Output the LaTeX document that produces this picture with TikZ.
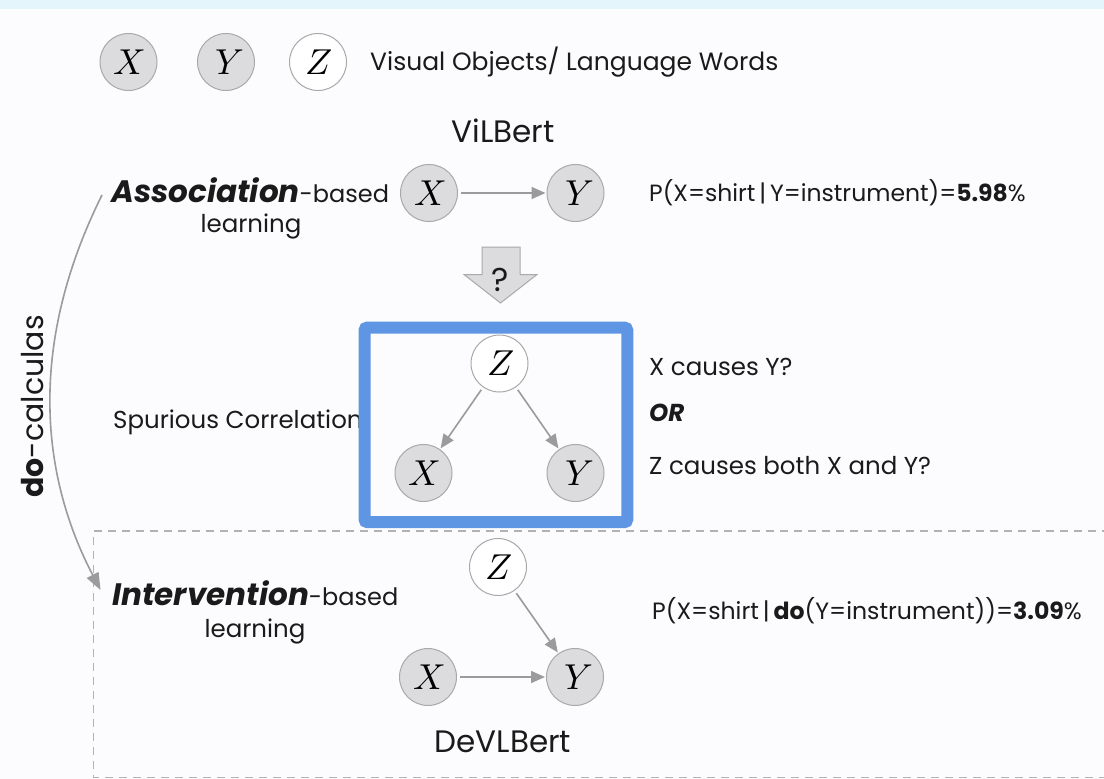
\documentclass[tikz,border=0pt]{standalone}
\usepackage{fontspec}
\setmainfont{Poppins}
\newfontfamily\varfont{Latin Modern Math}
\usetikzlibrary{arrows.meta,shapes.geometric}

\definecolor{pagebg}{HTML}{FCFCFE}
\definecolor{bandcol}{HTML}{E4F5FB}
\definecolor{nodefill}{HTML}{DCDCDE}
\definecolor{nodeline}{HTML}{A9A9A9}
\definecolor{edgecol}{HTML}{9B9B9B}
\definecolor{dashcol}{HTML}{B2B2B2}
\definecolor{boxblue}{HTML}{5F96E3}
\definecolor{inkcol}{HTML}{1A1A1A}
\newcommand\setfs[1]{\fontsize{#1}{#1}\selectfont}
% math-italic capitals
\newcommand\vX{^^^^^^01d44b}
\newcommand\vY{^^^^^^01d44c}
\newcommand\vZ{^^^^^^01d44d}

\tikzset{
  var/.style={ellipse, draw=nodeline, line width=1pt, fill=nodefill,
    minimum width=57pt, minimum height=57pt, inner sep=0pt,
    font=\varfont\setfs{36}, text=black},
  hidden/.style={var, fill=white},
  edge/.style={draw=edgecol, line width=1.6pt,
    -{Triangle[length=14pt,width=12pt]}, shorten >=1pt, shorten <=3pt},
  lbl/.style={inner sep=0pt, text=inkcol},
}

\begin{document}
\begin{tikzpicture}[x=1pt,y=-1pt]
\useasboundingbox (0,0) rectangle (1104,779);
\fill[pagebg] (0,0) rectangle (1104,779);
\fill[bandcol] (0,0) rectangle (1104,9);

% legend
\node[var] (lx) at (128.5,62) {\vX};
\node[var] (ly) at (226,62) {\vY};
\node[hidden] (lz) at (318,62) {\vZ};
\node[lbl, anchor=west, font=\setfs{25}] (legend) at (370,62) {Visual Objects/ Language Words};

% association-based learning
\node[lbl, font=\setfs{31}] (vilbert) at (503,131) {ViLBert};
\node[var] (ax) at (429,193) {\vX};
\node[var] (ay) at (575.5,193) {\vY};
\draw[edge] (ax) -- (ay);
\node[lbl, anchor=base west] (assoc) at (111,202)
  {\setfs{31}\textbf{\textit{Association}}\setfs{24}-based};
\node[lbl, anchor=base, font=\setfs{24.5}] (assoc2) at (251,232) {learning};
\node[lbl, anchor=west, font=\setfs{23.5}] (pa) at (649,193)
  {P(X=shirt\,|\,Y=instrument)=\textbf{5.98}\%};

% question arrow
\draw[fill=nodefill, draw=nodeline, line width=1pt]
  (482,247) -- (520,247) -- (520,274.5) -- (537,274.5) -- (500.5,303)
  -- (464,274.5) -- (482,274.5) -- cycle;
\node[lbl, font=\setfs{33}] (qm) at (500.5,280) {?};

% spurious correlation
\node[lbl, anchor=base west, font=\setfs{24.5}] (spur) at (113,428) {Spurious Correlation};
\draw[boxblue, line width=12pt, fill=pagebg, rounded corners=3pt]
  (364.5,327.5) rectangle (627.3,522.2);
\node[hidden] (bz) at (499.5,363.5) {\vZ};
\node[var] (bx) at (423.5,473) {\vX};
\node[var] (by) at (575.5,473) {\vY};
\draw[edge] (bz) -- (bx);
\draw[edge] (bz) -- (by);
\node[lbl, anchor=west, font=\setfs{24.5}] (q1) at (649,367) {X causes Y?};
\node[lbl, anchor=west, font=\setfs{24.5}] (q2) at (649,413) {\textbf{\textit{OR}}};
\node[lbl, anchor=west, font=\setfs{24.5}] (q3) at (649,466) {Z causes both X and Y?};

% intervention-based learning
\draw[dashcol, line width=1.2pt, dash pattern=on 8pt off 6pt]
  (1110,531) -- (93.5,531) -- (93.5,777.5) -- (1110,777.5);
\node[hidden] (iz) at (498,567) {\vZ};
\node[var] (ix) at (428,677) {\vX};
\node[var] (iy) at (575,677) {\vY};
\draw[edge] (iz) -- (iy);
\draw[edge] (ix) -- (iy);
\node[lbl, font=\setfs{31}] (devlbert) at (503,742) {DeVLBert};
\node[lbl, anchor=base west] (interv) at (112,605)
  {\setfs{31}\textbf{\textit{Intervention}}\setfs{24}-based};
\node[lbl, anchor=base, font=\setfs{24.5}] (interv2) at (255,637) {learning};
\node[lbl, anchor=west, font=\setfs{23.6}] (pi) at (652,611)
  {P(X=shirt\,|\,\textbf{do}(Y=instrument))=\textbf{3.09}\%};

% do-calculus link
\coordinate (cstart) at (102,195);
\coordinate (cend) at (100.5,590);
\draw[edgecol, line width=1.6pt, -{Triangle[length=17pt,width=13pt]}]
  (cstart) .. controls (30,340) and (38,470) .. (cend);
\node[lbl, rotate=90, anchor=base west, font=\setfs{30}] (docalc) at (43,498)
  {\textbf{do}-calculas};
\end{tikzpicture}
\end{document}
